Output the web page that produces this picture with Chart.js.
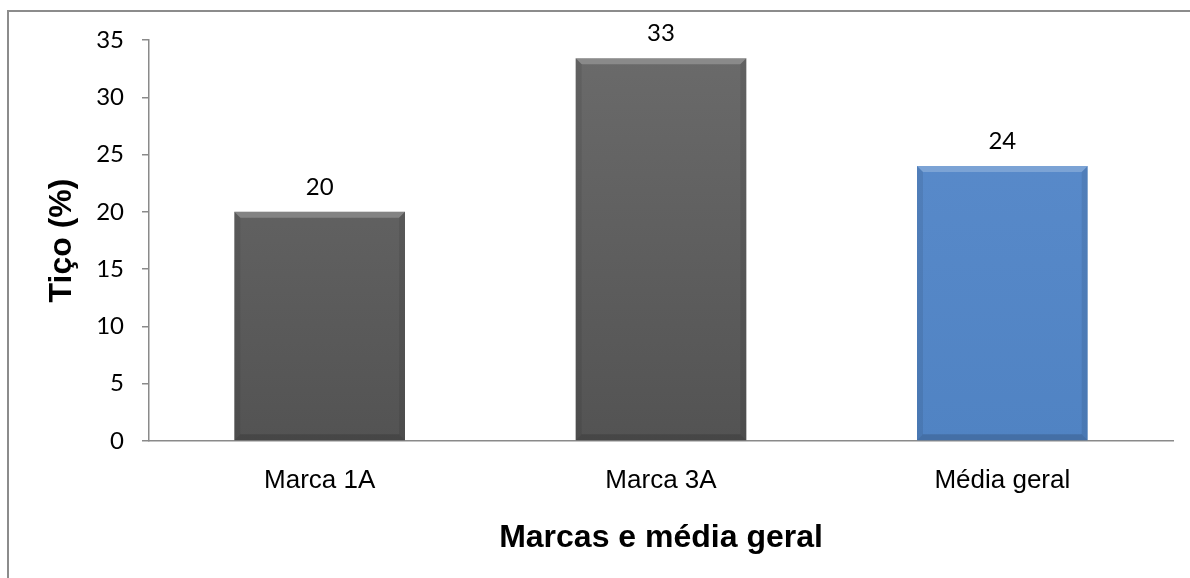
<!DOCTYPE html>
<html>
<head>
<meta charset="utf-8">
<script src="https://cdn.jsdelivr.net/npm/chart.js@4"></script>
<style>
  html, body { margin: 0; padding: 0; background: #ffffff; }
  #wrap { width: 1190px; height: 578px; }
</style>
</head>
<body>
<div id="wrap"><canvas id="chart" width="1190" height="578"></canvas></div>
<script>
// chart values
const categories = ['Marca 1A', 'Marca 3A', 'Média geral'];
const values = [20, 33.4, 24];
const barTones = ['gray', 'gray', 'blue'];
const yMin = 0, yMax = 35, yStep = 5;

const tones = {
    gray: { top: '#6b6b6b', bottom: '#535353' },
    blue: { top: '#5b8ccc', bottom: '#5083c3' }
};

// bar fill: vertical gradient over the plot height
function barFill(ctx) {
    const t = tones[barTones[ctx.dataIndex]];
    const area = ctx.chart.chartArea;
    if (!area) return t.top;
    const g = ctx.chart.ctx.createLinearGradient(0, area.top, 0, area.bottom);
    g.addColorStop(0, t.top);
    g.addColorStop(1, t.bottom);
    return g;
}

// white page + grey frame (top and left edges only are visible)
const framePlugin = {
    id: 'frame',
    beforeDraw(chart) {
        const c = chart.ctx;
        c.save();
        c.fillStyle = '#ffffff';
        c.fillRect(0, 0, chart.width, chart.height);
        c.strokeStyle = '#8c8c8c';
        c.lineWidth = 2;
        c.beginPath();
        c.moveTo(chart.width, 11);
        c.lineTo(8, 11);
        c.lineTo(8, chart.height);
        c.stroke();
        c.restore();
    }
};

// bevel edges on each bar + value labels above them
const bevelPlugin = {
    id: 'bevel',
    afterDatasetsDraw(chart) {
        const c = chart.ctx;
        const meta = chart.getDatasetMeta(0);
        c.save();
        meta.data.forEach((bar, i) => {
            const { x, y, base, width } = bar.getProps(['x', 'y', 'base', 'width'], true);
            const l = x - width / 2, r = x + width / 2, b = 6;
            // top highlight
            c.fillStyle = 'rgba(255,255,255,0.22)';
            c.beginPath();
            c.moveTo(l, y); c.lineTo(r, y); c.lineTo(r - b, y + b); c.lineTo(l + b, y + b);
            c.closePath(); c.fill();
            // side shades
            c.fillStyle = 'rgba(0,0,0,0.08)';
            c.beginPath();
            c.moveTo(l, y); c.lineTo(l + b, y + b); c.lineTo(l + b, base - b); c.lineTo(l, base);
            c.closePath(); c.fill();
            c.beginPath();
            c.moveTo(r, y); c.lineTo(r - b, y + b); c.lineTo(r - b, base - b); c.lineTo(r, base);
            c.closePath(); c.fill();
            // bottom shade
            c.fillStyle = 'rgba(0,0,0,0.15)';
            c.beginPath();
            c.moveTo(l, base); c.lineTo(l + b, base - b); c.lineTo(r - b, base - b); c.lineTo(r, base);
            c.closePath(); c.fill();

            c.fillStyle = '#000000';
            c.font = '24px Lato, "Open Sans", sans-serif';
            c.textAlign = 'center';
            c.textBaseline = 'alphabetic';
            c.fillText(String(Math.round(values[i])), x, y - 17);
        });
        c.restore();
    }
};

new Chart(document.getElementById('chart'), {
    type: 'bar',
    data: {
        labels: categories,
        datasets: [{
            data: values,
            backgroundColor: barFill,
            borderWidth: 0,
            barPercentage: 0.5,
            categoryPercentage: 1.0
        }]
    },
    options: {
        responsive: false,
        animation: false,
        layout: { padding: { left: 0, right: 17, top: 40, bottom: 0 } },
        plugins: {
            legend: { display: false },
            tooltip: { enabled: false }
        },
        scales: {
            x: {
                grid: { display: false, drawTicks: false },
                border: { display: true, color: '#8a8a8a', width: 1.5 },
                ticks: {
                    color: '#000000',
                    padding: 24,
                    font: { family: '"Liberation Sans", Arial, sans-serif', size: 26 }
                },
                title: {
                    display: true,
                    text: 'Marcas e média geral',
                    color: '#000000',
                    padding: { top: 0, bottom: 21 },
                    font: { family: '"Liberation Sans", Arial, sans-serif', size: 32, weight: 'bold' }
                },
                afterFit: s => { s.height = 137; }
            },
            y: {
                min: yMin,
                max: yMax,
                grid: { display: true, drawOnChartArea: false, tickLength: 7, color: '#8a8a8a', lineWidth: 1.5 },
                border: { display: true, color: '#8a8a8a', width: 1.5 },
                ticks: {
                    stepSize: yStep,
                    color: '#000000',
                    padding: 18,
                    font: { family: 'Lato, "Open Sans", sans-serif', size: 24 }
                },
                title: {
                    display: true,
                    text: 'Tiço (%)',
                    color: '#000000',
                    padding: { top: 43, bottom: 0 },
                    font: { family: '"Liberation Sans", Arial, sans-serif', size: 32, weight: 'bold' }
                },
                afterFit: s => { s.width = 149; }
            }
        }
    },
    plugins: [framePlugin, bevelPlugin]
});
</script>
</body>
</html>
